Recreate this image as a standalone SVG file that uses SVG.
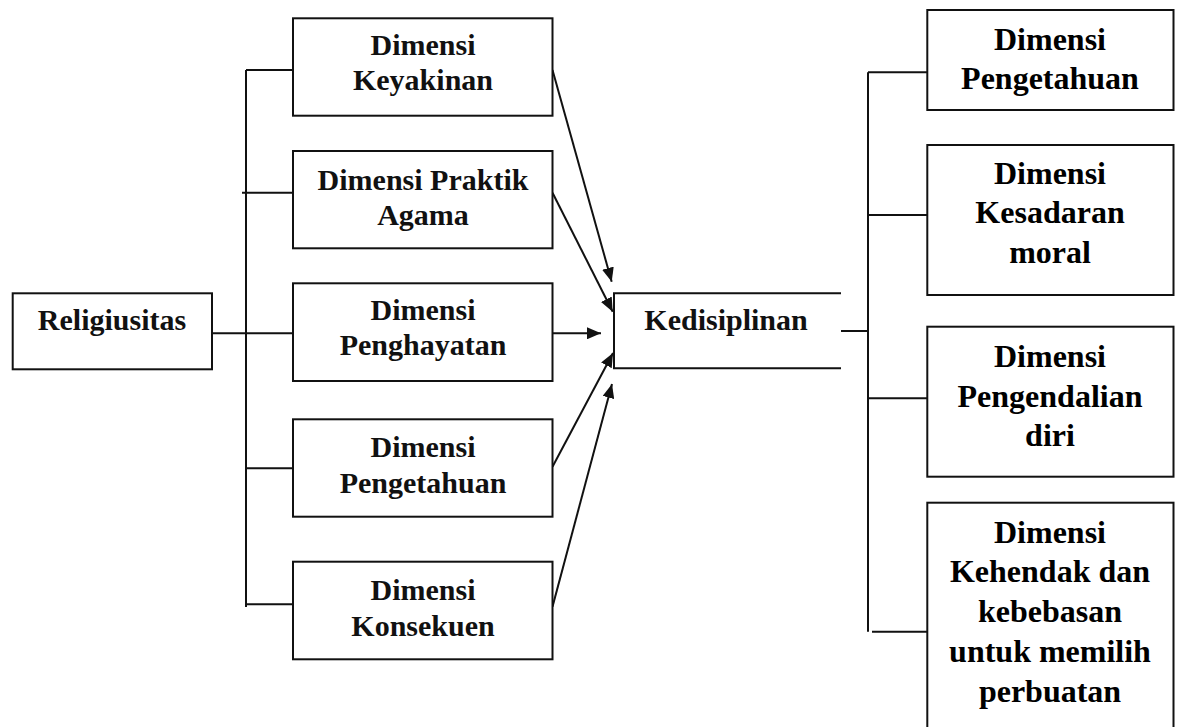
<svg xmlns="http://www.w3.org/2000/svg" width="1181" height="727" viewBox="0 0 1181 727">
<defs>
<style>
.box{fill:#fff;stroke:#111;stroke-width:2}
.ln{fill:none;stroke:#111;stroke-width:2}
.t{font-family:"Liberation Serif","Times New Roman",serif;font-weight:bold;font-size:30px;fill:#111;text-anchor:middle}
.tr{font-family:"Liberation Serif","Times New Roman",serif;font-weight:bold;font-size:32px;fill:#000;text-anchor:middle}
</style>
<marker id="ah" markerUnits="userSpaceOnUse" markerWidth="15" markerHeight="12" refX="14" refY="6" orient="auto" viewBox="0 0 15 12">
<path d="M0,0 L14,6 L0,12 z" fill="#111"/>
</marker>
</defs>
<rect width="1181" height="727" fill="#fff"/>
<g id="connectors">
<path class="ln" d="M246,70 V607"/>
<path class="ln" d="M246,70 H293"/>
<path class="ln" d="M242,192.7 H293"/>
<path class="ln" d="M212,333.3 H293"/>
<path class="ln" d="M246,468.3 H293"/>
<path class="ln" d="M246,604.3 H293"/>
<line class="ln" x1="552.5" y1="70" x2="611.7" y2="281.7" marker-end="url(#ah)"/>
<line class="ln" x1="552.5" y1="192.7" x2="612.7" y2="311.7" marker-end="url(#ah)"/>
<line class="ln" x1="552.5" y1="333.3" x2="601" y2="333.3" marker-end="url(#ah)"/>
<line class="ln" x1="552.5" y1="466.7" x2="613" y2="353" marker-end="url(#ah)"/>
<line class="ln" x1="552.5" y1="606.7" x2="612" y2="384" marker-end="url(#ah)"/>
<path class="ln" d="M841,331 H868"/>
<path class="ln" d="M868,72.3 V631.7"/>
<path class="ln" d="M868,72.3 H927"/>
<path class="ln" d="M868,215 H927"/>
<path class="ln" d="M868,398.3 H927"/>
<path class="ln" d="M872,631.7 H932"/>
</g>
<g id="religiusitas">
<rect class="box" x="12.7" y="293.3" width="199.3" height="76"/>
<text class="t" x="112" y="330">Religiusitas</text>
</g>
<g id="keyakinan">
<rect class="box" x="293" y="18.3" width="259.5" height="97.4"/>
<text class="t" x="423" y="55">Dimensi</text>
<text class="t" x="423" y="90">Keyakinan</text>
</g>
<g id="praktik">
<rect class="box" x="293" y="151" width="259.5" height="97.3"/>
<text class="t" x="423" y="190">Dimensi Praktik</text>
<text class="t" x="423" y="225">Agama</text>
</g>
<g id="penghayatan">
<rect class="box" x="293" y="283.3" width="259.5" height="97.7"/>
<text class="t" x="423" y="320">Dimensi</text>
<text class="t" x="423" y="355">Penghayatan</text>
</g>
<g id="pengetahuan-l">
<rect class="box" x="293" y="419.3" width="259.5" height="97.4"/>
<text class="t" x="423" y="457.3">Dimensi</text>
<text class="t" x="423" y="493.3">Pengetahuan</text>
</g>
<g id="konsekuen">
<rect class="box" x="293" y="561.7" width="259.5" height="97.6"/>
<text class="t" x="423" y="600">Dimensi</text>
<text class="t" x="423" y="636">Konsekuen</text>
</g>
<g id="kedisiplinan">
<path class="ln" d="M841,293.3 H614 V368.3 H841"/>
<text class="t" x="726" y="330">Kedisiplinan</text>
</g>
<g id="pengetahuan-r">
<rect class="box" x="927.3" y="10" width="246.2" height="100"/>
<text class="tr" x="1050" y="50">Dimensi</text>
<text class="tr" x="1050" y="89.3">Pengetahuan</text>
</g>
<g id="kesadaran">
<rect class="box" x="927.3" y="145" width="246.2" height="150"/>
<text class="tr" x="1050" y="184.3">Dimensi</text>
<text class="tr" x="1050" y="223.3">Kesadaran</text>
<text class="tr" x="1050" y="263.3">moral</text>
</g>
<g id="pengendalian">
<rect class="box" x="927.3" y="326.7" width="246.2" height="150"/>
<text class="tr" x="1050" y="367">Dimensi</text>
<text class="tr" x="1050" y="406.7">Pengendalian</text>
<text class="tr" x="1050" y="446">diri</text>
</g>
<g id="kehendak">
<rect class="box" x="927.3" y="502.7" width="246.2" height="240"/>
<text class="tr" x="1050" y="542.7">Dimensi</text>
<text class="tr" x="1050" y="581.7">Kehendak dan</text>
<text class="tr" x="1050" y="621.7">kebebasan</text>
<text class="tr" x="1050" y="661.7">untuk memilih</text>
<text class="tr" x="1050" y="701.7">perbuatan</text>
</g>
</svg>
